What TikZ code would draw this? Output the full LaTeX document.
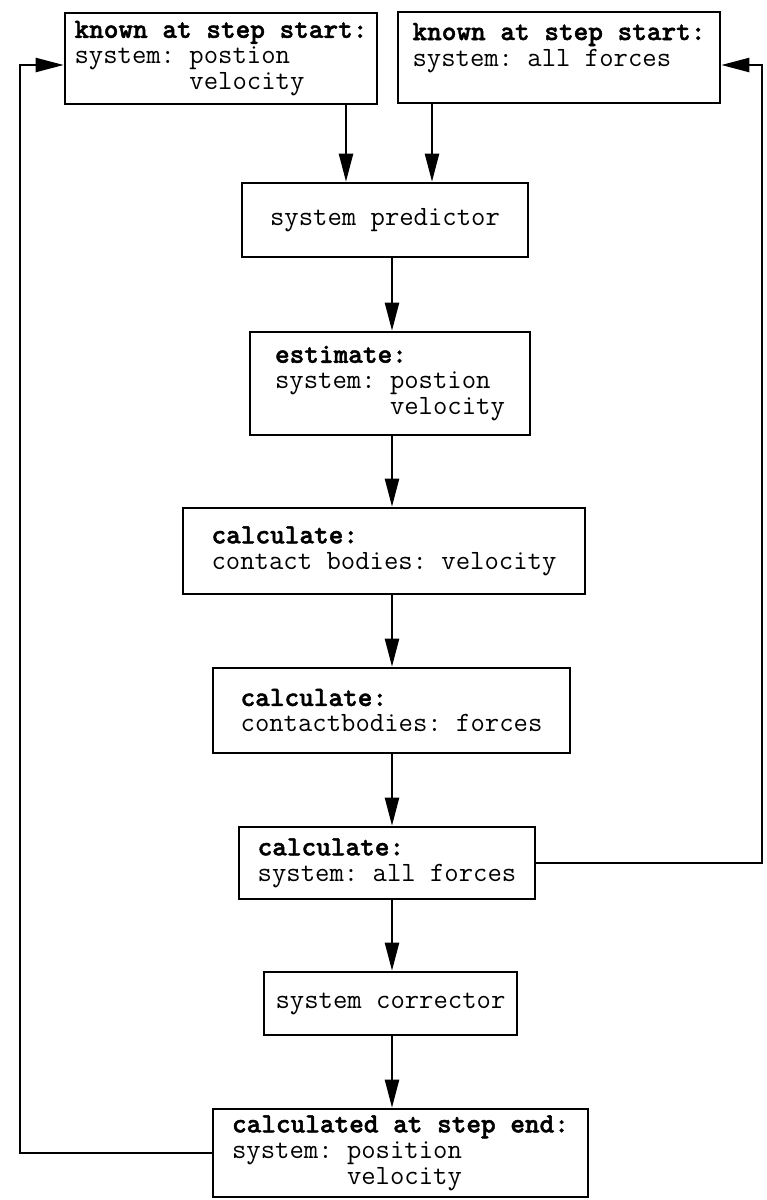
\documentclass[tikz,border=0pt]{standalone}
\usepackage{fontspec}
\usepackage{tikz}
\usetikzlibrary{arrows.meta}
\usetikzlibrary{calc}
\frenchspacing
\newfontfamily\headfont[FakeBold=1.6]{lmmonolt10-bold.otf}
\newcommand{\hd}[1]{{\headfont #1}}

\tikzset{
	blk/.style={draw, line width=2.6pt, inner sep=0pt, align=left, font=\ttfamily\fontsize{27.9}{26}\selectfont},
	flow/.style={line width=2.3pt, -{Triangle[length=28pt,width=14pt]}}
}

\begin{document}
\begin{tikzpicture}[x=1pt,y=-1pt]
	\useasboundingbox (0,0) rectangle (767,1200);
	%\draw[help lines, step=50] (0,0) grid (767,1200);

	\node[blk, minimum width=312, minimum height=91] (known1) at (221,58.5) {\hd{known at step start:}\\system: postion\\\phantom{system:~}velocity};
	\node[blk, minimum width=322, minimum height=91] (known2) at (559,57.5) {\hd{known at step start:}\\system: all forces\\~};

	\node[blk, minimum width=286, minimum height=74] (predict) at (385,220) {system predictor};
	\node[blk, minimum width=280, minimum height=103] (estim) at (390,383.5) {\hd{estimate:}\\system: postion\\\phantom{system:~}velocity};
	\node[blk, minimum width=402, minimum height=86] (contvel) at (384,551) {\hd{calculate:}\\contact bodies: velocity};
	\node[blk, minimum width=357, minimum height=85] (contfor) at (391.5,710.5) {\hd{calculate:}\\contactbodies: forces};
	\node[blk, minimum width=296, minimum height=72] (allfor) at (387,863) {\hd{calculate:}\\system: all forces};
	\node[blk, minimum width=253, minimum height=63] (correct) at (390.5,1003.5) {system corrector};
	\node[blk, minimum width=375, minimum height=88] (stepend) at (400.5,1153) {\hd{calculated at step end:}\\system: position\\\phantom{system:~}velocity};

	% columns of the arrows
	\coordinate (colA) at (346,0);
	\coordinate (colB) at (432,0);
	\coordinate (mid) at (392,0);
	\coordinate (lft) at (20,65);
	\coordinate (rgt) at (762,65);

	\draw[flow] (known1.south -| colA) -- (colA |- predict.north);
	\draw[flow] (known2.south -| colB) -- (colB |- predict.north);
	\draw[flow] (predict.south -| mid) -- (mid |- estim.north);
	\draw[flow] (estim.south -| mid) -- (mid |- contvel.north);
	\draw[flow] (contvel.south -| mid) -- (mid |- contfor.north);
	\draw[flow] (contfor.south -| mid) -- (mid |- allfor.north);
	\draw[flow] (allfor.south -| mid) -- (mid |- correct.north);
	\draw[flow] (correct.south -| mid) -- (mid |- stepend.north);

	% feedback loops
	\draw[flow] (allfor.east) -| (rgt) -- (rgt -| known2.east);
	\draw[flow] (stepend.west) -| (lft) -- (lft -| known1.west);
\end{tikzpicture}
\end{document}
